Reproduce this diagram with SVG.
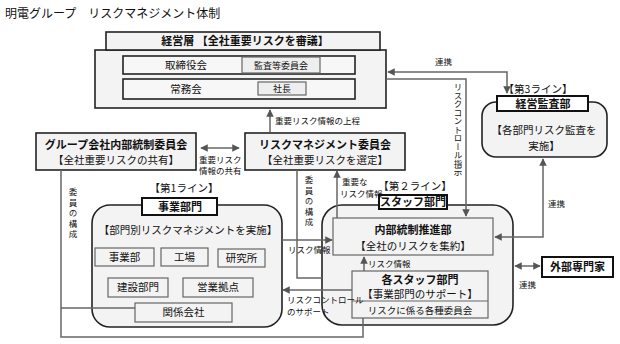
<svg xmlns="http://www.w3.org/2000/svg" width="620" height="344" viewBox="0 0 620 344">
<style>
text{font-family:"Noto Sans CJK JP","Noto Sans",sans-serif;fill:#111}
.t{font-size:12px}
.b{font-size:11px;font-weight:bold;text-anchor:middle}
.n{font-size:10.5px;text-anchor:middle}
.s{font-size:8.5px}
.v{font-size:8.5px;writing-mode:vertical-rl}
.box{fill:#f3f3f3;stroke:#222;stroke-width:1.6}
.hd{fill:#fff;stroke:#111;stroke-width:2}
.sub{fill:#f3f3f3;stroke:#666;stroke-width:1.2}
.ln{fill:none;stroke:#666;stroke-width:1.5}
</style>
<defs>
<marker id="a" viewBox="0 0 10 10" refX="9" refY="5" markerWidth="5" markerHeight="5" orient="auto-start-reverse"><path d="M0,0L10,5L0,10z" fill="#555"/></marker>
</defs>
<rect width="620" height="344" fill="#fff"/>
<text class="t" x="5" y="18">明電グループ　リスクマネジメント体制</text>

<g id="keieiso">
<rect class="box" x="95" y="50" width="291" height="58"/>
<rect class="box" x="106" y="32" width="274" height="18"/>
<text class="b" x="245" y="45">経営層 【全社重要リスクを審議】</text>
<rect class="box" x="123" y="56" width="232" height="18" style="fill:#f7f7f7"/>
<text class="n" x="186" y="69">取締役会</text>
<rect class="sub" x="242" y="57" width="78" height="16" style="fill:#eee"/>
<text class="n" x="281" y="69" style="font-size:9px">監査等委員会</text>
<rect class="box" x="123" y="79" width="232" height="20" style="fill:#f7f7f7"/>
<text class="n" x="186" y="93">常務会</text>
<rect class="sub" x="258" y="82" width="48" height="13" style="fill:#eee"/>
<text class="n" x="282" y="92" style="font-size:9px">社長</text>
</g>

<g id="group-committee">
<rect class="box" x="36" y="133" width="160" height="37"/>
<text class="b" x="116" y="149">グループ会社内部統制委員会</text>
<text class="n" x="116" y="164">【全社重要リスクの共有】</text>
</g>

<g id="rm-committee">
<rect class="box" x="245" y="133" width="160" height="37"/>
<text class="b" x="325" y="149">リスクマネジメント委員会</text>
<text class="n" x="325" y="164">【全社重要リスクを選定】</text>
</g>

<g id="line3">
<text class="n" x="538" y="93">【第3ライン】</text>
<rect class="box" x="482" y="102" width="125" height="55" rx="14"/>
<rect class="hd" x="497" y="96" width="91" height="15"/>
<text class="b" x="543" y="108">経営監査部</text>
<text class="n" x="544" y="134">【各部門リスク監査を</text>
<text class="n" x="544" y="150">実施】</text>
</g>

<g id="line1">
<text class="n" x="184" y="192">【第1ライン】</text>
<rect class="box" x="92" y="205" width="190" height="122" rx="18"/>
<rect class="hd" x="142" y="198" width="75" height="17"/>
<text class="b" x="180" y="211">事業部門</text>
<text class="n" x="188" y="234">【部門別リスクマネジメントを実施】</text>
<rect class="sub" x="95" y="248" width="59" height="18"/>
<text class="n" x="124.5" y="261">事業部</text>
<rect class="sub" x="161" y="248" width="47" height="18"/>
<text class="n" x="184.5" y="261">工場</text>
<rect class="sub" x="218" y="249" width="47" height="18"/>
<text class="n" x="241.5" y="262">研究所</text>
<rect class="sub" x="108" y="278" width="60" height="19"/>
<text class="n" x="138" y="291">建設部門</text>
<rect class="sub" x="183" y="278" width="70" height="19"/>
<text class="n" x="218" y="291">営業拠点</text>
<rect class="sub" x="135" y="303" width="97" height="19"/>
<text class="n" x="183.5" y="316">関係会社</text>
</g>

<g id="line2">
<text class="n" x="415" y="190">【第２ライン】</text>
<rect class="box" x="322" y="205" width="191" height="120" rx="20"/>
<rect class="hd" x="379" y="195" width="68" height="14"/>
<text class="b" x="413" y="206">スタッフ部門</text>
<rect class="sub" x="333" y="218" width="160" height="37"/>
<text class="b" x="413" y="234">内部統制推進部</text>
<text class="n" x="413" y="250">【全社のリスクを集約】</text>
<rect class="sub" x="352" y="271" width="136" height="47"/>
<line x1="352" y1="301" x2="488" y2="301" stroke="#666" stroke-width="1.2"/>
<text class="b" x="420" y="284">各スタッフ部門</text>
<text class="n" x="420" y="298">【事業部門のサポート】</text>
<text class="n" x="420" y="314" style="font-size:9.5px">リスクに係る各種委員会</text>
</g>

<g id="external">
<rect class="hd" x="542" y="257" width="71" height="20"/>
<text class="b" x="577.5" y="271">外部専門家</text>
</g>

<g id="connectors">
<path class="ln" d="M270,132V110" marker-end="url(#a)"/>
<path class="ln" d="M388,72H507V93" marker-start="url(#a)" marker-end="url(#a)"/>
<path class="ln" d="M386,79H466V216" marker-end="url(#a)"/>
<path class="ln" d="M543,159V237H495" marker-start="url(#a)" marker-end="url(#a)"/>
<path class="ln" d="M515,266H540" marker-start="url(#a)" marker-end="url(#a)"/>
<path class="ln" d="M201,148H239" marker-start="url(#a)" marker-end="url(#a)"/>
<path class="ln" d="M337,218V171" marker-end="url(#a)"/>
<path class="ln" d="M297,170V278H322"/>
<path class="ln" d="M282,240H332" marker-end="url(#a)"/>
<path class="ln" d="M352,290H283" marker-end="url(#a)"/>
<path class="ln" d="M364,271V257" marker-end="url(#a)"/>
<path class="ln" d="M61,170V337H363V318"/>
<path class="ln" d="M61,308H135"/>
<text class="s" x="275" y="124">重要リスク情報の上程</text>
<text class="s" x="435" y="65">連携</text>
<text class="v" x="458" y="83">リスクコントロール指示</text>
<text class="s" x="548" y="207">連携</text>
<text class="s" x="519" y="288">連携</text>
<text class="s" x="199" y="163">重要リスク</text>
<text class="s" x="199" y="174">情報の共有</text>
<text class="s" x="342" y="185">重要な</text>
<text class="s" x="340" y="197">リスク情報</text>
<text class="v" x="309" y="176" style="letter-spacing:2px">委員の構成</text>
<text class="v" x="73" y="188" style="letter-spacing:2px">委員の構成</text>
<text class="s" x="288" y="253">リスク情報</text>
<text class="s" x="368" y="267">リスク情報</text>
<text class="s" x="287" y="303">リスクコントロール</text>
<text class="s" x="287" y="315">のサポート</text>
</g>
</svg>
